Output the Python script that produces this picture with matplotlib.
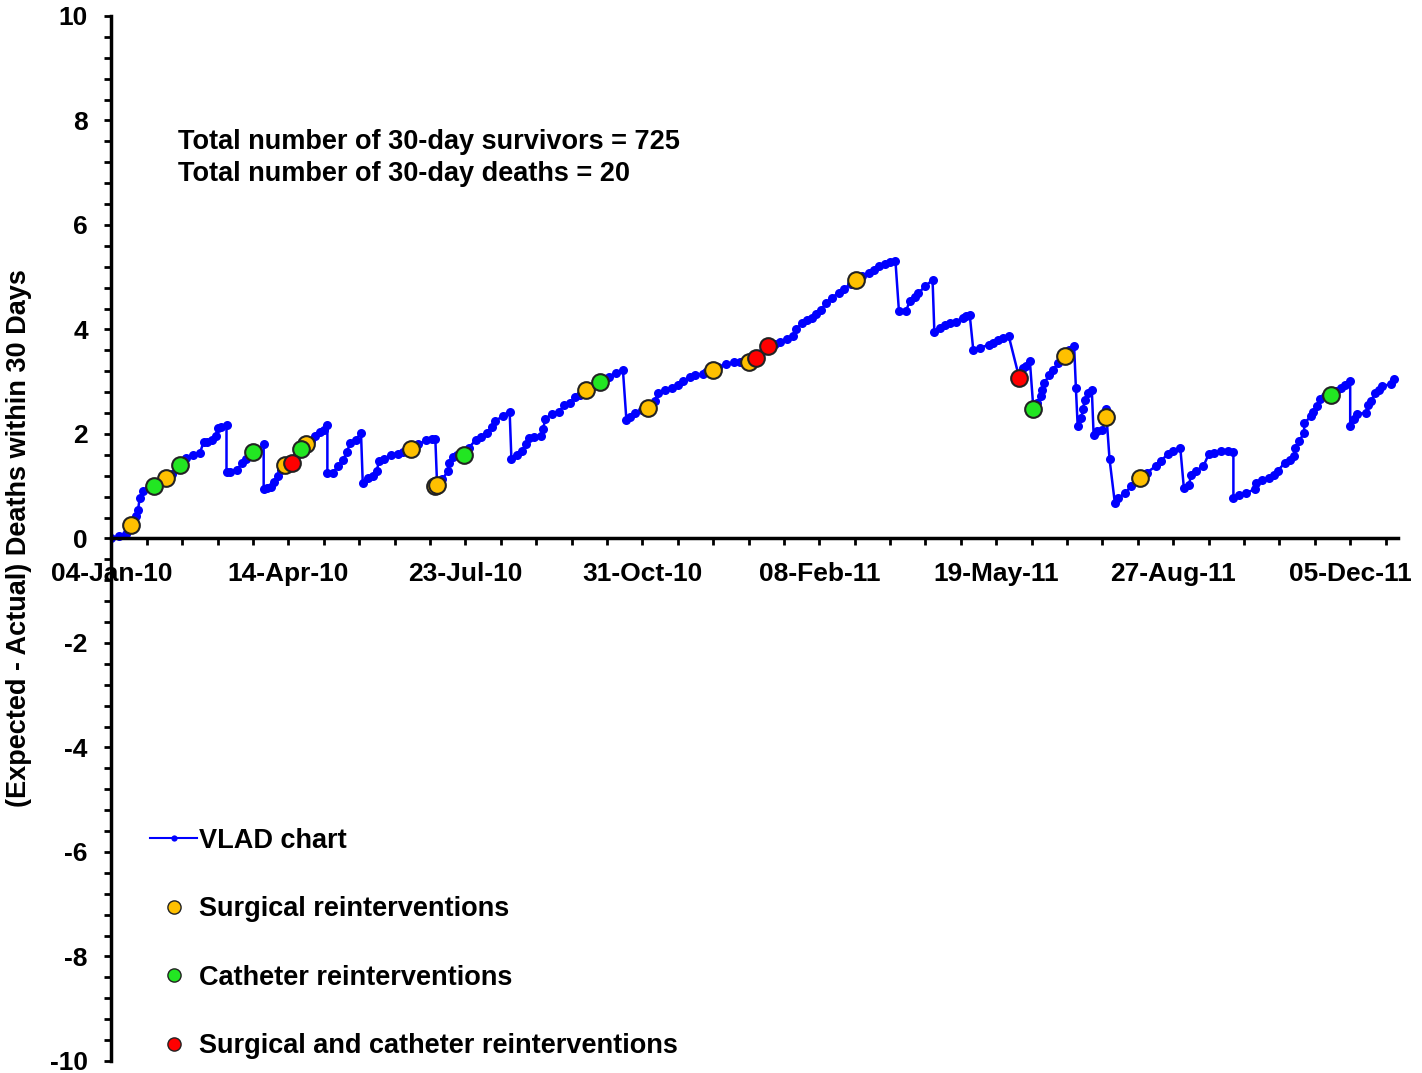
import numpy as np
import matplotlib
matplotlib.use("Agg")
import matplotlib.pyplot as plt
import matplotlib.dates as mdates
from matplotlib.lines import Line2D
from matplotlib.ticker import MultipleLocator

plt.rcParams['font.family'] = ['Liberation Sans', 'DejaVu Sans']
plt.rcParams['font.weight'] = 'bold'
plt.rcParams['axes.unicode_minus'] = False

start = np.datetime64("2010-01-04")

# VLAD curve, days since 04-Jan-10 and cumulative (expected - actual) deaths
vlad_days = [0, 4, 8, 11, 14, 15, 16, 18, 21, 24, 27, 31, 34, 39, 42, 46, 50, 52, 54, 57, 59, 60, 62, 65,
             65, 67, 71, 74, 76, 80, 83, 86,
             86, 88, 90, 92, 94, 96, 98, 102, 105, 107, 110, 113, 115, 118, 120, 122,
             122, 125, 128, 131, 133, 135, 138, 141,
             142, 145, 148, 150, 151, 154, 158, 162, 165, 169, 173, 178, 181, 183,
             184, 187, 190, 191, 193, 195, 199, 202, 206, 209, 212, 215, 217, 221, 225,
             226, 229, 232, 234, 236, 239, 243, 244, 245, 249, 253, 256, 259, 262, 265, 268, 272, 276, 281, 285, 289,
             291, 293, 296, 300, 303, 307, 309, 313, 317, 320, 323, 327, 330, 334, 336, 340, 343, 347, 352, 355,
             360, 364, 368, 371, 375, 378, 382, 385, 387, 390, 393, 396, 398, 401, 404, 407, 411, 414, 418, 421,
             424, 428, 431, 434, 437, 440, 443,
             445, 449, 451, 454, 456, 460, 464,
             465, 468, 471, 474, 477, 481, 483, 485,
             487, 491, 496, 498, 501, 504, 507,
             513, 515, 517, 519,
             521, 523, 525, 526, 527, 530, 532, 535, 539, 541, 544,
             545, 546, 548, 549, 550, 552, 554,
             555, 557, 560, 562, 562,
             564, 567, 569, 573, 576, 581, 585, 590, 593, 597, 600, 604,
             606, 609, 610, 613, 617, 620, 623, 627, 631, 634,
             634, 637, 641, 646, 647, 650, 654, 657, 659, 663, 666, 668, 669, 671, 674, 674, 678, 679, 681, 683,
             686, 689, 692, 695, 697, 700,
             700, 702, 704, 709, 710, 712, 714, 716, 718, 723, 725]
vlad_vals = [0.00, 0.04, 0.08, 0.25, 0.43, 0.55, 0.78, 0.90, 0.97, 1.01, 1.07, 1.15, 1.24, 1.40, 1.54, 1.59,
             1.64, 1.84, 1.85, 1.88, 1.97, 2.12, 2.14, 2.17,
             1.27, 1.28, 1.32, 1.45, 1.53, 1.65, 1.70, 1.80,
             0.95, 0.97, 0.99, 1.09, 1.19, 1.32, 1.40, 1.45, 1.59, 1.72, 1.80, 1.87, 1.96, 2.03, 2.08, 2.18,
             1.26, 1.26, 1.38, 1.51, 1.66, 1.83, 1.89, 2.02,
             1.06, 1.16, 1.20, 1.29, 1.48, 1.53, 1.59, 1.61, 1.66, 1.72, 1.80, 1.88, 1.90, 1.91,
             1.03, 1.13, 1.29, 1.45, 1.56, 1.59, 1.60, 1.74, 1.89, 1.95, 2.02, 2.14, 2.24, 2.35, 2.43,
             1.52, 1.59, 1.67, 1.80, 1.93, 1.94, 1.96, 2.10, 2.28, 2.39, 2.43, 2.56, 2.59, 2.70, 2.75, 2.84, 2.91,
             2.99, 3.10, 3.17, 3.23,
             2.26, 2.32, 2.40, 2.45, 2.49, 2.64, 2.79, 2.85, 2.88, 2.94, 3.01, 3.09, 3.12, 3.15, 3.19, 3.23, 3.28,
             3.33, 3.37, 3.37,
             3.38, 3.45, 3.58, 3.68, 3.73, 3.77, 3.82, 3.88, 4.00, 4.12, 4.19, 4.22, 4.30, 4.38, 4.51, 4.61, 4.70,
             4.78, 4.88, 4.94,
             5.02, 5.08, 5.14, 5.21, 5.26, 5.30, 5.32,
             4.35, 4.35, 4.54, 4.63, 4.70, 4.83, 4.95,
             3.96, 4.03, 4.09, 4.13, 4.15, 4.22, 4.26, 4.28,
             3.61, 3.65, 3.71, 3.75, 3.80, 3.84, 3.88,
             3.07, 3.26, 3.31, 3.39,
             2.47, 2.60, 2.72, 2.85, 2.98, 3.12, 3.23, 3.35, 3.50, 3.61, 3.68,
             2.88, 2.15, 2.31, 2.47, 2.66, 2.79, 2.84,
             1.99, 2.05, 2.08, 2.33, 2.47,
             1.52, 0.68, 0.78, 0.87, 1.00, 1.15, 1.26, 1.38, 1.49, 1.61, 1.68, 1.73,
             0.97, 1.03, 1.22, 1.30, 1.38, 1.61, 1.64, 1.67, 1.67, 1.65,
             0.78, 0.84, 0.87, 0.94, 1.06, 1.11, 1.16, 1.22, 1.29, 1.45, 1.51, 1.57, 1.73, 1.86, 2.02, 2.21, 2.34,
             2.43, 2.53, 2.67,
             2.72, 2.75, 2.83, 2.88, 2.94, 3.01,
             2.16, 2.28, 2.39, 2.40, 2.56, 2.64, 2.79, 2.85, 2.91, 2.96, 3.05]

# reintervention markers
surg_days = [11, 31, 98, 110, 169, 183, 184, 268, 303, 340, 360, 421, 539, 562, 581]
surg_vals = [0.25, 1.15, 1.40, 1.80, 1.72, 1.00, 1.03, 2.84, 2.49, 3.23, 3.38, 4.94, 3.50, 2.33, 1.15]
cath_days = [24, 39, 80, 107, 199, 276, 521, 689]
cath_vals = [1.01, 1.40, 1.65, 1.72, 1.60, 2.99, 2.47, 2.75]
both_days = [102, 364, 371, 513]
both_vals = [1.45, 3.45, 3.68, 3.07]

n_survivors = 725
n_deaths = 20

BLUE = '#0000FF'
GOLD = '#FFC000'
GREEN = '#22E622'
RED = '#FF0000'
EDGE = '#222222'


def to_dates(days):
    return start + np.array(days, dtype='timedelta64[D]')


fig = plt.figure(figsize=(14.22, 10.73), dpi=100)
ax = fig.add_axes([0.0784, 0.0112, 0.9047, 0.9739])

ax.plot(to_dates(vlad_days), vlad_vals, color=BLUE, lw=1.8, marker='o', ms=6.5, mew=0, zorder=2)
ax.plot(to_dates(surg_days), surg_vals, ls='none', marker='o', ms=12, mfc=GOLD, mec=EDGE, mew=1.5, zorder=3)
ax.plot(to_dates(cath_days), cath_vals, ls='none', marker='o', ms=12, mfc=GREEN, mec=EDGE, mew=1.5, zorder=4)
ax.plot(to_dates(both_days), both_vals, ls='none', marker='o', ms=12, mfc=RED, mec=EDGE, mew=1.5, zorder=5)

ax.set_xlim(start, start + np.timedelta64(727, 'D'))
ax.set_ylim(-10, 10)

base = mdates.date2num(start)
ax.xaxis.set_major_locator(MultipleLocator(100, offset=base % 100))
ax.xaxis.set_minor_locator(MultipleLocator(20, offset=base % 20))
ax.xaxis.set_major_formatter(mdates.DateFormatter('%d-%b-%y'))
ax.yaxis.set_major_locator(MultipleLocator(2))
ax.yaxis.set_minor_locator(MultipleLocator(0.4))

for side in ['top', 'right']:
    ax.spines[side].set_visible(False)
ax.spines['bottom'].set_position(('data', 0))
for side in ['left', 'bottom']:
    ax.spines[side].set_linewidth(2.5)

ax.tick_params(axis='both', which='both', direction='out', width=2, length=5)
ax.tick_params(axis='x', labelsize=19, pad=12)
ax.tick_params(axis='y', labelsize=19, pad=12)

ax.set_ylabel('(Expected - Actual) Deaths within 30 Days', fontsize=19.5, fontweight='bold')
ax.yaxis.set_label_coords(-0.062, 0.5)

ax.text(0.052, 0.864,
        f'Total number of 30-day survivors = {n_survivors}\nTotal number of 30-day deaths = {n_deaths}',
        transform=ax.transAxes, fontsize=19.5, fontweight='bold', va='center', ha='left', linespacing=1.28)

handles = [
    Line2D([], [], color=BLUE, lw=1.5, marker='o', ms=4.5, mew=0),
    Line2D([], [], ls='none', marker='o', ms=9.5, mfc=GOLD, mec=EDGE, mew=1),
    Line2D([], [], ls='none', marker='o', ms=9.5, mfc=GREEN, mec=EDGE, mew=1),
    Line2D([], [], ls='none', marker='o', ms=9.5, mfc=RED, mec=EDGE, mew=1),
]
labels = ['VLAD chart', 'Surgical reinterventions', 'Catheter reinterventions',
          'Surgical and catheter reinterventions']
fig.legend(handles, labels, loc='upper left', bbox_to_anchor=(0.1055, 0.2285), frameon=False,
           fontsize=19.5, handlelength=1.74, handletextpad=0.07, labelspacing=1.57,
           borderpad=0, borderaxespad=0, numpoints=1)

fig.savefig('out.png', dpi=100)
